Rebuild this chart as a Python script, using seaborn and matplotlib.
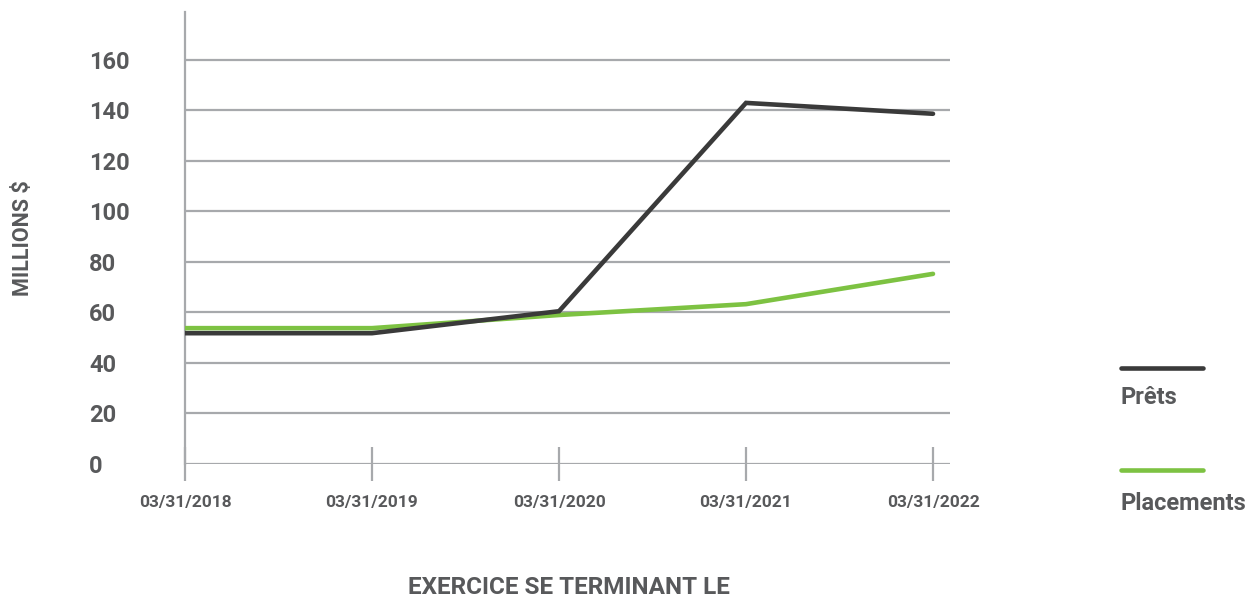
import pandas as pd
import seaborn as sns
import matplotlib.pyplot as plt
from matplotlib.lines import Line2D

dates = ['03/31/2018', '03/31/2019', '03/31/2020', '03/31/2021', '03/31/2022']
prets = [51.8, 51.8, 60.5, 143.0, 138.7]
placements = [53.8, 53.8, 59.0, 63.3, 75.3]
series_names = ['Prêts', 'Placements']
series_colors = ['#3a3a3a', '#7dc242']
y_ticks = [0, 20, 40, 60, 80, 100, 120, 140, 160]

TEXT = '#58595b'
GRID = '#a7a9ac'


def main():
    sns.set_theme(style='white')
    plt.rcParams['font.family'] = ['Roboto', 'DejaVu Sans']
    plt.rcParams['font.weight'] = 'bold'

    df = pd.DataFrame({
        'pos': list(range(len(dates))) * 2,
        'value': prets + placements,
        'serie': [series_names[0]] * len(dates) + [series_names[1]] * len(dates),
    })

    fig = plt.figure(figsize=(12.53, 6), dpi=100)
    ax = fig.add_axes([185 / 1253, 136 / 600, 765 / 1253, 452 / 600])

    palette = dict(zip(series_names, series_colors))
    # placements first so the dark line sits on top
    for name in reversed(series_names):
        sns.lineplot(data=df[df['serie'] == name], x='pos', y='value',
                     color=palette[name], linewidth=3.3, ax=ax, legend=False,
                     solid_capstyle='round', solid_joinstyle='miter', zorder=3)

    ax.set_xlim(0, 765 / 187)
    ax.set_ylim(0, 179)
    ax.set_yticks(y_ticks)
    ax.set_yticklabels([str(v) for v in y_ticks])
    ax.set_xticks(range(len(dates)))
    ax.set_xticklabels(dates)

    ax.yaxis.grid(True, color=GRID, linewidth=1.6)
    ax.xaxis.grid(False)
    for side in ['top', 'right', 'bottom']:
        ax.spines[side].set_visible(False)
    ax.spines['left'].set_color(GRID)
    ax.spines['left'].set_linewidth(1.6)

    ax.tick_params(axis='x', bottom=True, direction='inout', length=25, width=1.6,
                   color=GRID, pad=10, labelsize=12.5, labelcolor=TEXT)
    ax.tick_params(axis='y', left=False, length=0, pad=69, labelsize=17, labelcolor=TEXT)
    for lab in ax.get_yticklabels():
        lab.set_horizontalalignment('left')

    ax.set_xlabel('EXERCICE SE TERMINANT LE', fontsize=17.5, color=TEXT,
                  fontweight='bold', va='top')
    ax.xaxis.set_label_coords(0.502, -0.248)
    ax.set_ylabel('MILLIONS $', fontsize=15.5, color=TEXT, fontweight='bold')
    ax.yaxis.set_label_coords(-0.197, 0.5)

    # legend: line with the label underneath
    line_y = [368, 470]
    text_y = [398, 503]
    for name, color, ly, ty in zip(series_names, series_colors, line_y, text_y):
        fig.add_artist(Line2D([1121 / 1253, 1203 / 1253], [1 - ly / 600, 1 - ly / 600],
                              color=color, linewidth=3.3, solid_capstyle='round',
                              transform=fig.transFigure))
        fig.text(1120 / 1253, 1 - ty / 600, name, fontsize=17, color=TEXT,
                 fontweight='bold', ha='left', va='center')

    fig.savefig('out.png', dpi=100)


if __name__ == '__main__':
    main()
